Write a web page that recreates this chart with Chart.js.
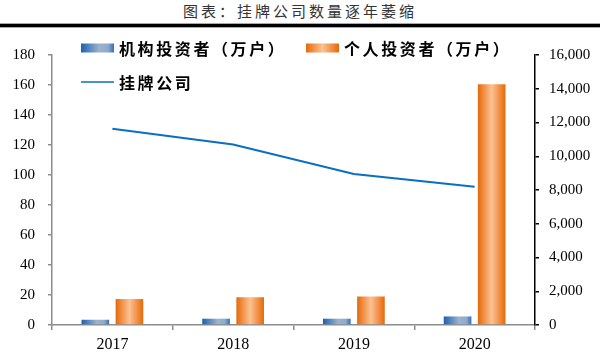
<!DOCTYPE html>
<html>
<head>
<meta charset="utf-8">
<script src="https://cdn.jsdelivr.net/npm/chart.js@4.4.1/dist/chart.umd.min.js"></script>
<style>
  html, body { margin: 0; padding: 0; background: #fff; }
  #wrap { position: relative; width: 600px; height: 352px; overflow: hidden; }
  #title { position: absolute; left: 0; top: 2px; width: 600px; text-align: center;
           font-family: "Noto Sans CJK SC", sans-serif; font-size: 15px; font-weight: 400;
           color: #333; letter-spacing: 3px; line-height: 18px; }
  #rule { position: absolute; left: 0; top: 24px; width: 600px; height: 3px; background: #000;
          box-shadow: 0 -1px 0 #aaa, 0 1px 0 #aaa; }
  canvas { position: absolute; left: 0; top: 0; }
</style>
</head>
<body>
<div id="wrap">
  <div id="title">图表：挂牌公司数量逐年萎缩</div>
  <div id="rule"></div>
  <canvas id="c" width="600" height="352"></canvas>
</div>
<script>
// ---- data ----
const categories = ['2017', '2018', '2019', '2020'];
const institutionalInvestors = [3.5, 4.2, 4.2, 5.7];       // 万户
const individualInvestors = [17.3, 18.5, 19.0, 160.5];     // 万户
const listedCompanies = [11630, 10691, 8953, 8187];
const seriesNames = ['机构投资者（万户）', '个人投资者（万户）', '挂牌公司'];
const leftTicks = { min: 0, max: 180, step: 20 };
const rightTicks = { min: 0, max: 16000, step: 2000 };

// ---- styles ----
const CAT_PCT = 0.565, BAR_PCT = 0.81;
const blueStops = [[0, '#1C60B2'], [0.55, '#9BB4CE'], [0.82, '#8FAACB'], [1, '#2F6FC0']];
const orangeStops = [[0, '#E36A08'], [0.18, '#F0883A'], [0.5, '#FBC293'], [0.82, '#F0883A'], [1, '#E36A08']];
const SERIF = "'Liberation Serif', 'Times New Roman', serif";

function makeGrad(ctx2d, x0, x1, stops) {
  const g = ctx2d.createLinearGradient(x0, 0, x1, 0);
  stops.forEach(s => g.addColorStop(s[0], s[1]));
  return g;
}
function barFill(stops, barIdx) {
  return function (c) {
    const chart = c.chart;
    const xs = chart.scales && chart.scales.x;
    if (!xs || c.dataIndex === undefined || !isFinite(xs.left)) return stops[0][1];
    const center = xs.getPixelForValue(c.dataIndex);
    const catW = (xs.right - xs.left) / categories.length;
    const slot = catW * CAT_PCT / 2;
    const bc = center + (barIdx - 0.5) * slot;
    const w = slot * BAR_PCT;
    return makeGrad(chart.ctx, bc - w / 2, bc + w / 2, stops);
  };
}

const legendPlugin = {
  id: 'customLegend',
  afterDraw(chart) {
    const ctx = chart.ctx;
    const ds = chart.data.datasets;
    ctx.save();
    ctx.font = 'bold 16px "Noto Sans CJK SC", sans-serif';
    ctx.textBaseline = 'middle';
    ctx.fillStyle = '#000';
    if ('letterSpacing' in ctx) ctx.letterSpacing = '2.6px';
    const items = [
      { x: 81, y: 48, type: 'bar', stops: blueStops, label: ds[0].label },
      { x: 306, y: 48, type: 'bar', stops: orangeStops, label: ds[1].label },
      { x: 81, y: 82, type: 'line', color: ds[2].borderColor, label: ds[2].label }
    ];
    items.forEach(it => {
      if (it.type === 'bar') {
        ctx.fillStyle = makeGrad(ctx, it.x, it.x + 33, it.stops);
        ctx.fillRect(it.x, it.y - 4.5, 33, 9);
      } else {
        ctx.strokeStyle = it.color;
        ctx.lineWidth = 1.5;
        ctx.beginPath();
        ctx.moveTo(it.x, it.y);
        ctx.lineTo(it.x + 33, it.y);
        ctx.stroke();
      }
      ctx.fillStyle = '#000';
      ctx.fillText(it.label, it.x + 38, it.y + 1);
    });
    ctx.restore();
  }
};

new Chart(document.getElementById('c'), {
  type: 'bar',
  data: {
    labels: categories,
    datasets: [
      { label: seriesNames[0], data: institutionalInvestors, yAxisID: 'y',
        backgroundColor: barFill(blueStops, 0), categoryPercentage: CAT_PCT, barPercentage: BAR_PCT, order: 2 },
      { label: seriesNames[1], data: individualInvestors, yAxisID: 'y',
        backgroundColor: barFill(orangeStops, 1), categoryPercentage: CAT_PCT, barPercentage: BAR_PCT, order: 2 },
      { type: 'line', label: seriesNames[2], data: listedCompanies, yAxisID: 'y1',
        borderColor: '#0A6FC2', borderWidth: 2, pointRadius: 0, tension: 0, fill: false, order: 1 }
    ]
  },
  options: {
    responsive: false,
    animation: false,
    devicePixelRatio: 1,
    layout: { padding: { top: 55, left: 0, right: 0, bottom: 0 } },
    plugins: { legend: { display: false }, title: { display: false }, tooltip: { enabled: false } },
    scales: {
      x: {
        type: 'category',
        offset: true,
        grid: { offset: true, drawOnChartArea: false, tickLength: 5, color: '#8c8c8c', lineWidth: 1.5 },
        border: { color: '#8c8c8c', width: 1.5 },
        ticks: { font: { family: SERIF, size: 16 }, color: '#000', padding: 5, maxRotation: 0 },
        afterFit(s) { s.height = 27; }
      },
      y: {
        position: 'left',
        min: leftTicks.min, max: leftTicks.max,
        grid: { drawOnChartArea: false, tickLength: 4, color: '#8c8c8c', lineWidth: 1.5 },
        border: { color: '#8c8c8c', width: 1.5 },
        ticks: { stepSize: leftTicks.step, font: { family: SERIF, size: 15 }, color: '#000', padding: 13 },
        afterFit(s) { s.width = 52; }
      },
      y1: {
        position: 'right',
        min: rightTicks.min, max: rightTicks.max,
        grid: { drawOnChartArea: false, tickLength: 4, color: '#000', lineWidth: 1.5 },
        border: { color: '#000', width: 1.5 },
        ticks: { stepSize: rightTicks.step, font: { family: SERIF, size: 15 }, color: '#000', padding: 10,
                 callback: v => v.toLocaleString('en-US') },
        afterFit(s) { s.width = 65; }
      }
    }
  },
  plugins: [legendPlugin]
});
</script>
</body>
</html>
